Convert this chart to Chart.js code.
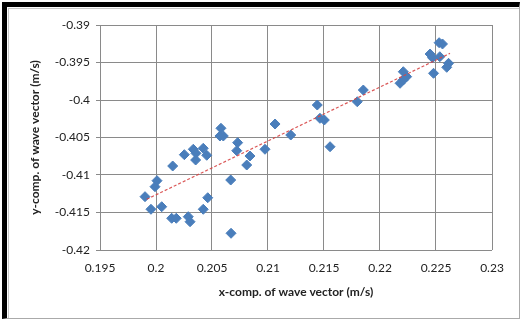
<!DOCTYPE html>
<html>
<head>
<meta charset="utf-8">
<script src="https://cdn.jsdelivr.net/npm/chart.js@4"></script>
<style>
  html, body { margin: 0; padding: 0; background: #fff; }
  #wrap { position: relative; width: 520px; height: 320px; overflow: hidden; }
  #frame {
    position: absolute; left: 2px; top: 2px; width: 512px; height: 311px;
    border-left: 5px solid #000; border-top: 5px solid #000;
    border-right: 1px solid #aaa; border-bottom: 1px solid #aaa;
  }
  #frame div { position: absolute; left: 1px; top: 1px; right: 0; bottom: 0;
    border-left: 1px solid #c8c8c8; border-top: 1px solid #c8c8c8; }
  canvas { position: absolute; left: 0; top: 0; }
</style>
</head>
<body>
<div id="wrap">
  <div id="frame"><div></div></div>
  <canvas id="chart" width="520" height="320"></canvas>
</div>
<script>
// Measured points (x, y components of wave vector)
const xVals = [0.19902, 0.19955, 0.19991, 0.20009, 0.20051, 0.20149, 0.20140, 0.20181,
  0.20253, 0.20288, 0.20304, 0.20333, 0.20357, 0.20354, 0.20422, 0.20453, 0.20422, 0.20462,
  0.20580, 0.20571, 0.20601, 0.20667, 0.20670, 0.20729, 0.20721, 0.20839, 0.20810, 0.20973,
  0.21063, 0.21203, 0.21440, 0.21464, 0.21503, 0.21554, 0.21797, 0.21851, 0.22179, 0.22208,
  0.22238, 0.22208, 0.22447, 0.22469, 0.22528, 0.22558, 0.22534, 0.22612, 0.22596, 0.22478];
const yVals = [-0.41289, -0.41457, -0.41156, -0.41076, -0.41423, -0.40880, -0.41577, -0.41577,
  -0.40729, -0.41556, -0.41623, -0.40657, -0.40711, -0.40800, -0.40644, -0.40737, -0.41457, -0.41303,
  -0.40377, -0.40480, -0.40480, -0.41067, -0.41777, -0.40569, -0.40676, -0.40747, -0.40867, -0.40657,
  -0.40320, -0.40467, -0.40067, -0.40244, -0.40267, -0.40623, -0.40023, -0.39867, -0.39777, -0.39623,
  -0.39689, -0.39733, -0.39387, -0.39436, -0.39236, -0.39253, -0.39423, -0.39511, -0.39564, -0.39644];

// Linear trendline ends
const trendX = [0.19917, 0.22625];
const trendY = [-0.41324, -0.39378];

// Axis ticks
const xTicks = [0.195, 0.2, 0.205, 0.21, 0.215, 0.22, 0.225, 0.23];
const yTicks = [-0.42, -0.415, -0.41, -0.405, -0.4, -0.395, -0.39];

const gridColor = '#8a8a8a';
const fmt = v => String(Number(v.toFixed(3)));

const points = xVals.map((x, i) => ({ x: x, y: yVals[i] }));
const trend = trendX.map((x, i) => ({ x: x, y: trendY[i] }));

const ctx = document.getElementById('chart').getContext('2d');
const chart = new Chart(ctx, {
    type: 'scatter',
    data: {
        datasets: [{
            label: 'Linear trend',
            type: 'line',
            data: trend,
            borderColor: 'rgba(215, 70, 70, 0.9)',
            borderWidth: 1.2,
            borderDash: [3, 2],
            pointRadius: 0,
            fill: false
        }, {
            label: 'Wave vector',
            data: points,
            pointStyle: 'rectRot',
            pointRadius: 5,
            backgroundColor: '#4A7EBB',
            borderColor: '#4A7EBB',
            borderWidth: 1
        }]
    },
    options: {
        responsive: false,
        animation: false,
        layout: { padding: { left: 24, right: 28, top: 0, bottom: 17 } },
        plugins: {
            legend: { display: false },
            tooltip: { enabled: false }
        },
        scales: {
            x: {
                type: 'linear',
                position: 'bottom',
                min: 0.195,
                max: 0.23,
                afterBuildTicks: axis => { axis.ticks = xTicks.map(v => ({ value: v })); },
                afterFit: axis => { axis.height = 53; },
                grid: { display: false, drawTicks: false },
                border: { display: false },
                ticks: {
                    padding: 11,
                    color: '#222',
                    font: { family: 'Lato', size: 12 },
                    maxRotation: 0,
                    callback: v => fmt(v)
                },
                title: {
                    display: true,
                    text: 'x-comp. of wave vector (m/s)',
                    color: '#222',
                    font: { family: 'Lato', size: 12, weight: 'bold' }
                }
            },
            x2: {
                type: 'linear',
                position: 'top',
                min: 0.195,
                max: 0.23,
                afterBuildTicks: axis => { axis.ticks = xTicks.map(v => ({ value: v })); },
                afterFit: axis => { axis.height = 25; },
                grid: {
                    drawOnChartArea: true,
                    drawTicks: false,
                    color: gridColor,
                    borderDash: [5, 600]
                },
                border: { display: true, color: gridColor },
                ticks: { display: false }
            },
            y: {
                type: 'linear',
                min: -0.42,
                max: -0.39,
                afterBuildTicks: axis => { axis.ticks = yTicks.map(v => ({ value: v })); },
                afterFit: axis => { axis.width = 76; },
                grid: { color: gridColor, drawTicks: true, tickLength: 4 },
                border: { display: true, color: gridColor },
                ticks: {
                    padding: 6,
                    color: '#222',
                    font: { family: 'Lato', size: 12 },
                    callback: v => fmt(v)
                },
                title: {
                    display: true,
                    text: 'y-comp. of wave vector (m/s)',
                    color: '#222',
                    font: { family: 'Lato', size: 12, weight: 'bold' }
                }
            }
        }
    }
});
</script>
</body>
</html>
